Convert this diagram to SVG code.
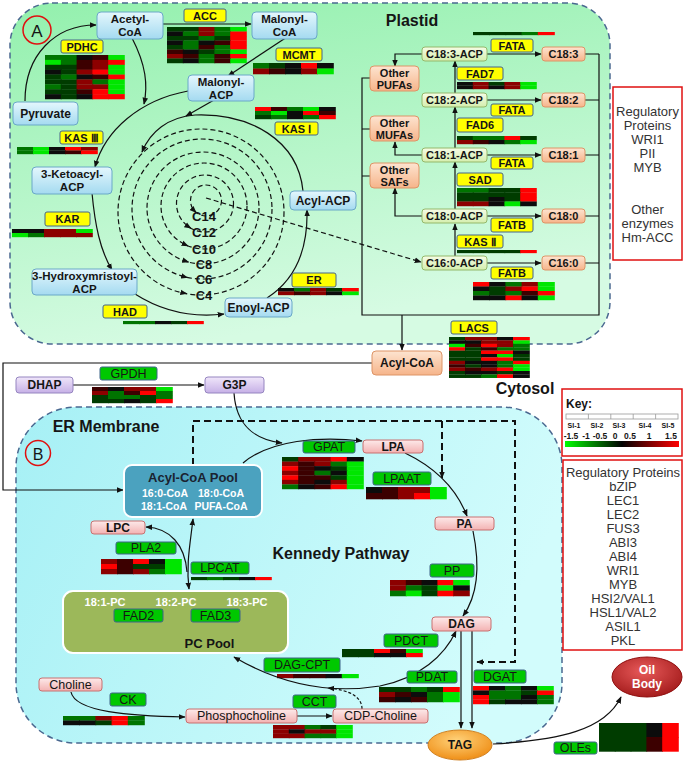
<svg xmlns="http://www.w3.org/2000/svg" width="685" height="768" viewBox="0 0 685 768">
<defs>
<style>
text{font-family:"Liberation Sans",Arial,sans-serif;text-anchor:middle;dominant-baseline:central;fill:#151515}
.b{font-weight:bold;font-size:12px}
.b2{font-weight:bold;font-size:11.5px}
.s{font-weight:bold;font-size:11px}
.n{font-size:12.5px}
.big{font-weight:bold;font-size:16px}
.reg{font-size:13px;fill:#333}
.blue{fill:url(#gBlue);stroke:#6aa8c8;stroke-width:1}
.yel{fill:#ffff00;stroke:#46648a;stroke-width:1}
.grn{fill:#00c800;stroke:#3c6488;stroke-width:1}
.pink{fill:url(#gPink);stroke:#c87070;stroke-width:1}
.acp{fill:url(#gAcp);stroke:#94b86a;stroke-width:1}
.org{fill:url(#gOrg);stroke:#dd9466;stroke-width:1}
.pur{fill:url(#gPur);stroke:#9585c0;stroke-width:1}
.hm rect{width:1.05px;height:1.05px}
.G{fill:#00e600}.g{fill:#007400}.m{fill:#003c00}.k{fill:#0c0c0c}.d{fill:#3c0000}.r{fill:#8c0000}.R{fill:#ff0000}
.con path{fill:none;stroke:#111;stroke-width:1.2}
.con .ds{stroke-dasharray:5 3}
.con .dk{stroke-width:2;stroke-dasharray:7 4}
</style>
<marker id="a" viewBox="0 0 10 10" refX="9" refY="5" markerWidth="7" markerHeight="7" markerUnits="userSpaceOnUse" orient="auto-start-reverse"><path d="M0,1 L10,5 L0,9 z" fill="#111"/></marker>
<linearGradient id="gPl" x1="0" y1="0" x2="0.3" y2="1"><stop offset="0" stop-color="#93f0ad"/><stop offset="1" stop-color="#d6fbe3"/></linearGradient>
<linearGradient id="gEr" x1="0" y1="0" x2="1" y2="0.3"><stop offset="0" stop-color="#a6f0f5"/><stop offset="1" stop-color="#d2fcfc"/></linearGradient>
<linearGradient id="gBlue" x1="0" y1="0" x2="0" y2="1"><stop offset="0" stop-color="#e4f7fd"/><stop offset="1" stop-color="#a4daf0"/></linearGradient>
<linearGradient id="gPink" x1="0" y1="0" x2="0" y2="1"><stop offset="0" stop-color="#fdeaea"/><stop offset="1" stop-color="#f3b2b2"/></linearGradient>
<linearGradient id="gAcp" x1="0" y1="0" x2="0" y2="1"><stop offset="0" stop-color="#f6fce6"/><stop offset="1" stop-color="#d4eeae"/></linearGradient>
<linearGradient id="gOrg" x1="0" y1="0" x2="0" y2="1"><stop offset="0" stop-color="#fde4d0"/><stop offset="1" stop-color="#f6b48a"/></linearGradient>
<linearGradient id="gPur" x1="0" y1="0" x2="0" y2="1"><stop offset="0" stop-color="#f0e6fa"/><stop offset="1" stop-color="#c6b0e6"/></linearGradient>
<linearGradient id="gKey" x1="0" y1="0" x2="1" y2="0"><stop offset="0" stop-color="#00ff00"/><stop offset="0.5" stop-color="#000"/><stop offset="1" stop-color="#ff0000"/></linearGradient>
<radialGradient id="gTag" cx="0.45" cy="0.35" r="0.7"><stop offset="0" stop-color="#ffd27a"/><stop offset="1" stop-color="#ee8a10"/></radialGradient>
<radialGradient id="gOil" cx="0.45" cy="0.35" r="0.7"><stop offset="0" stop-color="#e85a5a"/><stop offset="1" stop-color="#a01818"/></radialGradient>
</defs>

<!-- compartments -->
<rect x="10" y="3" width="600" height="341" rx="42" fill="url(#gPl)" stroke="#4a6890" stroke-width="1.5" stroke-dasharray="6 4"/>
<rect x="16" y="407" width="546" height="336" rx="60" fill="url(#gEr)" stroke="#4a6890" stroke-width="1.5" stroke-dasharray="6 4"/>
<circle cx="37" cy="30" r="14" fill="none" stroke="#e01010" stroke-width="1.5"/>
<text x="37" y="31" style="font-size:17px">A</text>
<circle cx="38" cy="453" r="12.5" fill="none" stroke="#e01010" stroke-width="1.5"/>
<text x="38" y="454" style="font-size:16px">B</text>
<text class="big" x="412" y="20">Plastid</text>
<text class="big" x="525" y="388">Cytosol</text>
<text class="big" x="106" y="426">ER Membrane</text>
<text class="big" x="341" y="553">Kennedy Pathway</text>

<!-- heatmaps -->
<g class="hm">
<g transform="translate(167,27) scale(15.8,4.5)"><rect class="m" x="0" y="0"/><rect class="m" x="1" y="0"/><rect class="r" x="2" y="0"/><rect class="g" x="3" y="0"/><rect class="G" x="4" y="0"/><rect class="k" x="0" y="1"/><rect class="g" x="1" y="1"/><rect class="r" x="2" y="1"/><rect class="g" x="3" y="1"/><rect class="R" x="4" y="1"/><rect class="m" x="0" y="2"/><rect class="m" x="1" y="2"/><rect class="g" x="2" y="2"/><rect class="m" x="3" y="2"/><rect class="R" x="4" y="2"/><rect class="k" x="0" y="3"/><rect class="g" x="1" y="3"/><rect class="k" x="2" y="3"/><rect class="d" x="3" y="3"/><rect class="R" x="4" y="3"/><rect class="m" x="0" y="4"/><rect class="g" x="1" y="4"/><rect class="d" x="2" y="4"/><rect class="g" x="3" y="4"/><rect class="R" x="4" y="4"/><rect class="d" x="0" y="5"/><rect class="k" x="1" y="5"/><rect class="m" x="2" y="5"/><rect class="g" x="3" y="5"/><rect class="G" x="4" y="5"/><rect class="r" x="0" y="6"/><rect class="d" x="1" y="6"/><rect class="g" x="2" y="6"/><rect class="d" x="3" y="6"/><rect class="R" x="4" y="6"/><rect class="m" x="0" y="7"/><rect class="k" x="1" y="7"/><rect class="g" x="2" y="7"/><rect class="d" x="3" y="7"/><rect class="G" x="4" y="7"/></g>
<g transform="translate(45,55) scale(15.8,4.89)"><rect class="g" x="0" y="0"/><rect class="g" x="1" y="0"/><rect class="k" x="2" y="0"/><rect class="d" x="3" y="0"/><rect class="G" x="4" y="0"/><rect class="G" x="0" y="1"/><rect class="g" x="1" y="1"/><rect class="d" x="2" y="1"/><rect class="r" x="3" y="1"/><rect class="R" x="4" y="1"/><rect class="m" x="0" y="2"/><rect class="m" x="1" y="2"/><rect class="d" x="2" y="2"/><rect class="r" x="3" y="2"/><rect class="G" x="4" y="2"/><rect class="k" x="0" y="3"/><rect class="m" x="1" y="3"/><rect class="r" x="2" y="3"/><rect class="R" x="3" y="3"/><rect class="G" x="4" y="3"/><rect class="m" x="0" y="4"/><rect class="g" x="1" y="4"/><rect class="k" x="2" y="4"/><rect class="d" x="3" y="4"/><rect class="R" x="4" y="4"/><rect class="m" x="0" y="5"/><rect class="m" x="1" y="5"/><rect class="r" x="2" y="5"/><rect class="g" x="3" y="5"/><rect class="G" x="4" y="5"/><rect class="g" x="0" y="6"/><rect class="m" x="1" y="6"/><rect class="r" x="2" y="6"/><rect class="r" x="3" y="6"/><rect class="G" x="4" y="6"/><rect class="m" x="0" y="7"/><rect class="m" x="1" y="7"/><rect class="d" x="2" y="7"/><rect class="R" x="3" y="7"/><rect class="G" x="4" y="7"/><rect class="k" x="0" y="8"/><rect class="m" x="1" y="8"/><rect class="k" x="2" y="8"/><rect class="R" x="3" y="8"/><rect class="R" x="4" y="8"/></g>
<g transform="translate(253,63) scale(16,5.5)"><rect class="g" x="0" y="0"/><rect class="m" x="1" y="0"/><rect class="k" x="2" y="0"/><rect class="R" x="3" y="0"/><rect class="k" x="4" y="0"/><rect class="r" x="0" y="1"/><rect class="d" x="1" y="1"/><rect class="k" x="2" y="1"/><rect class="r" x="3" y="1"/><rect class="G" x="4" y="1"/></g>
<g transform="translate(255,107) scale(16,4)"><rect class="R" x="0" y="0"/><rect class="d" x="1" y="0"/><rect class="g" x="2" y="0"/><rect class="G" x="3" y="0"/><rect class="k" x="4" y="0"/><rect class="g" x="0" y="1"/><rect class="G" x="1" y="1"/><rect class="k" x="2" y="1"/><rect class="R" x="3" y="1"/><rect class="d" x="4" y="1"/><rect class="m" x="0" y="2"/><rect class="g" x="1" y="2"/><rect class="k" x="2" y="2"/><rect class="g" x="3" y="2"/><rect class="R" x="4" y="2"/></g>
<g transform="translate(17,147) scale(16,3.5)"><rect class="g" x="0" y="0"/><rect class="G" x="1" y="0"/><rect class="k" x="2" y="0"/><rect class="R" x="3" y="0"/><rect class="r" x="4" y="0"/><rect class="g" x="0" y="1"/><rect class="G" x="1" y="1"/><rect class="k" x="2" y="1"/><rect class="d" x="3" y="1"/><rect class="R" x="4" y="1"/></g>
<g transform="translate(12,229) scale(16,4)"><rect class="k" x="0" y="0"/><rect class="k" x="1" y="0"/><rect class="r" x="2" y="0"/><rect class="r" x="3" y="0"/><rect class="G" x="4" y="0"/><rect class="G" x="0" y="1"/><rect class="g" x="1" y="1"/><rect class="r" x="2" y="1"/><rect class="r" x="3" y="1"/><rect class="r" x="4" y="1"/></g>
<g transform="translate(123,321) scale(16,3)"><rect class="g" x="0" y="0"/><rect class="g" x="1" y="0"/><rect class="k" x="2" y="0"/><rect class="m" x="3" y="0"/><rect class="R" x="4" y="0"/></g>
<g transform="translate(278,288) scale(16,3.5)"><rect class="k" x="0" y="0"/><rect class="g" x="1" y="0"/><rect class="r" x="2" y="0"/><rect class="m" x="3" y="0"/><rect class="R" x="4" y="0"/><rect class="r" x="0" y="1"/><rect class="d" x="1" y="1"/><rect class="r" x="2" y="1"/><rect class="k" x="3" y="1"/><rect class="G" x="4" y="1"/></g>
<g transform="translate(473,32) scale(16.2,3)"><rect class="m" x="0" y="0"/><rect class="m" x="1" y="0"/><rect class="m" x="2" y="0"/><rect class="g" x="3" y="0"/><rect class="R" x="4" y="0"/></g>
<g transform="translate(457,82) scale(15.8,3.5)"><rect class="k" x="0" y="0"/><rect class="r" x="1" y="0"/><rect class="m" x="2" y="0"/><rect class="r" x="3" y="0"/><rect class="G" x="4" y="0"/><rect class="k" x="0" y="1"/><rect class="r" x="1" y="1"/><rect class="k" x="2" y="1"/><rect class="r" x="3" y="1"/><rect class="G" x="4" y="1"/></g>
<g transform="translate(457,136) scale(15.8,4)"><rect class="m" x="0" y="0"/><rect class="g" x="1" y="0"/><rect class="g" x="2" y="0"/><rect class="R" x="3" y="0"/><rect class="m" x="4" y="0"/><rect class="r" x="0" y="1"/><rect class="d" x="1" y="1"/><rect class="k" x="2" y="1"/><rect class="g" x="3" y="1"/><rect class="G" x="4" y="1"/></g>
<g transform="translate(457,188) scale(15.8,4.5)"><rect class="g" x="0" y="0"/><rect class="g" x="1" y="0"/><rect class="m" x="2" y="0"/><rect class="m" x="3" y="0"/><rect class="R" x="4" y="0"/><rect class="m" x="0" y="1"/><rect class="m" x="1" y="1"/><rect class="m" x="2" y="1"/><rect class="m" x="3" y="1"/><rect class="R" x="4" y="1"/><rect class="m" x="0" y="2"/><rect class="m" x="1" y="2"/><rect class="k" x="2" y="2"/><rect class="m" x="3" y="2"/><rect class="R" x="4" y="2"/><rect class="r" x="0" y="3"/><rect class="r" x="1" y="3"/><rect class="k" x="2" y="3"/><rect class="G" x="3" y="3"/><rect class="k" x="4" y="3"/></g>
<g transform="translate(457,250) scale(15.8,3)"><rect class="m" x="0" y="0"/><rect class="m" x="1" y="0"/><rect class="m" x="2" y="0"/><rect class="m" x="3" y="0"/><rect class="R" x="4" y="0"/></g>
<g transform="translate(473,282) scale(16.2,4.5)"><rect class="R" x="0" y="0"/><rect class="k" x="1" y="0"/><rect class="g" x="2" y="0"/><rect class="r" x="3" y="0"/><rect class="G" x="4" y="0"/><rect class="k" x="0" y="1"/><rect class="m" x="1" y="1"/><rect class="r" x="2" y="1"/><rect class="R" x="3" y="1"/><rect class="G" x="4" y="1"/><rect class="g" x="0" y="2"/><rect class="m" x="1" y="2"/><rect class="g" x="2" y="2"/><rect class="d" x="3" y="2"/><rect class="R" x="4" y="2"/><rect class="k" x="0" y="3"/><rect class="k" x="1" y="3"/><rect class="R" x="2" y="3"/><rect class="k" x="3" y="3"/><rect class="G" x="4" y="3"/></g>
<g transform="translate(449,337) scale(16,3.4)"><rect class="m" x="0" y="0"/><rect class="r" x="1" y="0"/><rect class="r" x="2" y="0"/><rect class="k" x="3" y="0"/><rect class="R" x="4" y="0"/><rect class="k" x="0" y="1"/><rect class="k" x="1" y="1"/><rect class="r" x="2" y="1"/><rect class="r" x="3" y="1"/><rect class="G" x="4" y="1"/><rect class="G" x="0" y="2"/><rect class="d" x="1" y="2"/><rect class="R" x="2" y="2"/><rect class="r" x="3" y="2"/><rect class="g" x="4" y="2"/><rect class="R" x="0" y="3"/><rect class="m" x="1" y="3"/><rect class="d" x="2" y="3"/><rect class="g" x="3" y="3"/><rect class="g" x="4" y="3"/><rect class="m" x="0" y="4"/><rect class="m" x="1" y="4"/><rect class="R" x="2" y="4"/><rect class="R" x="3" y="4"/><rect class="k" x="4" y="4"/><rect class="m" x="0" y="5"/><rect class="m" x="1" y="5"/><rect class="k" x="2" y="5"/><rect class="G" x="3" y="5"/><rect class="m" x="4" y="5"/><rect class="m" x="0" y="6"/><rect class="m" x="1" y="6"/><rect class="R" x="2" y="6"/><rect class="R" x="3" y="6"/><rect class="m" x="4" y="6"/><rect class="r" x="0" y="7"/><rect class="k" x="1" y="7"/><rect class="k" x="2" y="7"/><rect class="g" x="3" y="7"/><rect class="R" x="4" y="7"/><rect class="d" x="0" y="8"/><rect class="m" x="1" y="8"/><rect class="k" x="2" y="8"/><rect class="g" x="3" y="8"/><rect class="G" x="4" y="8"/><rect class="r" x="0" y="9"/><rect class="d" x="1" y="9"/><rect class="r" x="2" y="9"/><rect class="R" x="3" y="9"/><rect class="G" x="4" y="9"/><rect class="m" x="0" y="10"/><rect class="k" x="1" y="10"/><rect class="k" x="2" y="10"/><rect class="m" x="3" y="10"/><rect class="k" x="4" y="10"/><rect class="m" x="0" y="11"/><rect class="m" x="1" y="11"/><rect class="g" x="2" y="11"/><rect class="R" x="3" y="11"/><rect class="k" x="4" y="11"/></g>
<g transform="translate(92,387) scale(16,4)"><rect class="d" x="0" y="0"/><rect class="k" x="1" y="0"/><rect class="r" x="2" y="0"/><rect class="r" x="3" y="0"/><rect class="G" x="4" y="0"/><rect class="r" x="0" y="1"/><rect class="g" x="1" y="1"/><rect class="d" x="2" y="1"/><rect class="R" x="3" y="1"/><rect class="g" x="4" y="1"/><rect class="m" x="0" y="2"/><rect class="g" x="1" y="2"/><rect class="g" x="2" y="2"/><rect class="m" x="3" y="2"/><rect class="g" x="4" y="2"/><rect class="m" x="0" y="3"/><rect class="m" x="1" y="3"/><rect class="k" x="2" y="3"/><rect class="m" x="3" y="3"/><rect class="R" x="4" y="3"/></g>
<g transform="translate(282,457) scale(16.2,4.57)"><rect class="m" x="0" y="0"/><rect class="r" x="1" y="0"/><rect class="r" x="2" y="0"/><rect class="R" x="3" y="0"/><rect class="k" x="4" y="0"/><rect class="r" x="0" y="1"/><rect class="d" x="1" y="1"/><rect class="r" x="2" y="1"/><rect class="g" x="3" y="1"/><rect class="G" x="4" y="1"/><rect class="R" x="0" y="2"/><rect class="d" x="1" y="2"/><rect class="k" x="2" y="2"/><rect class="m" x="3" y="2"/><rect class="G" x="4" y="2"/><rect class="r" x="0" y="3"/><rect class="d" x="1" y="3"/><rect class="g" x="2" y="3"/><rect class="k" x="3" y="3"/><rect class="G" x="4" y="3"/><rect class="R" x="0" y="4"/><rect class="d" x="1" y="4"/><rect class="d" x="2" y="4"/><rect class="m" x="3" y="4"/><rect class="G" x="4" y="4"/><rect class="r" x="0" y="5"/><rect class="d" x="1" y="5"/><rect class="k" x="2" y="5"/><rect class="r" x="3" y="5"/><rect class="G" x="4" y="5"/><rect class="g" x="0" y="6"/><rect class="k" x="1" y="6"/><rect class="d" x="2" y="6"/><rect class="R" x="3" y="6"/><rect class="G" x="4" y="6"/></g>
<g transform="translate(366,487) scale(16,6)"><rect class="k" x="0" y="0"/><rect class="d" x="1" y="0"/><rect class="r" x="2" y="0"/><rect class="r" x="3" y="0"/><rect class="G" x="4" y="0"/><rect class="d" x="0" y="1"/><rect class="d" x="1" y="1"/><rect class="r" x="2" y="1"/><rect class="R" x="3" y="1"/><rect class="G" x="4" y="1"/></g>
<g transform="translate(101,559) scale(16,5)"><rect class="r" x="0" y="0"/><rect class="d" x="1" y="0"/><rect class="R" x="2" y="0"/><rect class="k" x="3" y="0"/><rect class="G" x="4" y="0"/><rect class="R" x="0" y="1"/><rect class="d" x="1" y="1"/><rect class="m" x="2" y="1"/><rect class="m" x="3" y="1"/><rect class="G" x="4" y="1"/><rect class="r" x="0" y="2"/><rect class="d" x="1" y="2"/><rect class="r" x="2" y="2"/><rect class="g" x="3" y="2"/><rect class="G" x="4" y="2"/></g>
<g transform="translate(191,577) scale(16,3)"><rect class="m" x="0" y="0"/><rect class="g" x="1" y="0"/><rect class="m" x="2" y="0"/><rect class="k" x="3" y="0"/><rect class="R" x="4" y="0"/></g>
<g transform="translate(390,580) scale(15.8,5.33)"><rect class="r" x="0" y="0"/><rect class="d" x="1" y="0"/><rect class="k" x="2" y="0"/><rect class="R" x="3" y="0"/><rect class="G" x="4" y="0"/><rect class="r" x="0" y="1"/><rect class="g" x="1" y="1"/><rect class="m" x="2" y="1"/><rect class="G" x="3" y="1"/><rect class="k" x="4" y="1"/><rect class="g" x="0" y="2"/><rect class="G" x="1" y="2"/><rect class="m" x="2" y="2"/><rect class="R" x="3" y="2"/><rect class="r" x="4" y="2"/></g>
<g transform="translate(85,625) scale(16.2,5)"><rect class="k" x="0" y="0"/><rect class="r" x="1" y="0"/><rect class="R" x="2" y="0"/><rect class="m" x="3" y="0"/><rect class="G" x="4" y="0"/><rect class="r" x="0" y="1"/><rect class="r" x="1" y="1"/><rect class="k" x="2" y="1"/><rect class="r" x="3" y="1"/><rect class="G" x="4" y="1"/><rect class="m" x="0" y="2"/><rect class="d" x="1" y="2"/><rect class="k" x="2" y="2"/><rect class="d" x="3" y="2"/><rect class="R" x="4" y="2"/></g>
<g transform="translate(191,624) scale(15.6,3)"><rect class="m" x="0" y="0"/><rect class="m" x="1" y="0"/><rect class="m" x="2" y="0"/><rect class="g" x="3" y="0"/><rect class="R" x="4" y="0"/></g>
<g transform="translate(342,649) scale(16,4)"><rect class="m" x="0" y="0"/><rect class="m" x="1" y="0"/><rect class="R" x="2" y="0"/><rect class="d" x="3" y="0"/><rect class="G" x="4" y="0"/><rect class="m" x="0" y="1"/><rect class="m" x="1" y="1"/><rect class="k" x="2" y="1"/><rect class="k" x="3" y="1"/><rect class="R" x="4" y="1"/></g>
<g transform="translate(277,674) scale(16.2,4)"><rect class="r" x="0" y="0"/><rect class="d" x="1" y="0"/><rect class="d" x="2" y="0"/><rect class="k" x="3" y="0"/><rect class="G" x="4" y="0"/></g>
<g transform="translate(379,687) scale(16,5)"><rect class="m" x="0" y="0"/><rect class="m" x="1" y="0"/><rect class="g" x="2" y="0"/><rect class="m" x="3" y="0"/><rect class="R" x="4" y="0"/><rect class="r" x="0" y="1"/><rect class="d" x="1" y="1"/><rect class="k" x="2" y="1"/><rect class="g" x="3" y="1"/><rect class="G" x="4" y="1"/><rect class="d" x="0" y="2"/><rect class="k" x="1" y="2"/><rect class="d" x="2" y="2"/><rect class="g" x="3" y="2"/><rect class="G" x="4" y="2"/></g>
<g transform="translate(473,686) scale(16,4.5)"><rect class="R" x="0" y="0"/><rect class="k" x="1" y="0"/><rect class="g" x="2" y="0"/><rect class="k" x="3" y="0"/><rect class="G" x="4" y="0"/><rect class="k" x="0" y="1"/><rect class="g" x="1" y="1"/><rect class="g" x="2" y="1"/><rect class="m" x="3" y="1"/><rect class="R" x="4" y="1"/><rect class="R" x="0" y="2"/><rect class="g" x="1" y="2"/><rect class="g" x="2" y="2"/><rect class="k" x="3" y="2"/><rect class="g" x="4" y="2"/><rect class="R" x="0" y="3"/><rect class="m" x="1" y="3"/><rect class="k" x="2" y="3"/><rect class="k" x="3" y="3"/><rect class="g" x="4" y="3"/></g>
<g transform="translate(63,716) scale(16.2,4.5)"><rect class="g" x="0" y="0"/><rect class="g" x="1" y="0"/><rect class="r" x="2" y="0"/><rect class="R" x="3" y="0"/><rect class="g" x="4" y="0"/><rect class="k" x="0" y="1"/><rect class="k" x="1" y="1"/><rect class="m" x="2" y="1"/><rect class="R" x="3" y="1"/><rect class="g" x="4" y="1"/></g>
<g transform="translate(273,725) scale(15.8,4.33)"><rect class="r" x="0" y="0"/><rect class="r" x="1" y="0"/><rect class="g" x="2" y="0"/><rect class="m" x="3" y="0"/><rect class="G" x="4" y="0"/><rect class="r" x="0" y="1"/><rect class="k" x="1" y="1"/><rect class="r" x="2" y="1"/><rect class="r" x="3" y="1"/><rect class="G" x="4" y="1"/><rect class="r" x="0" y="2"/><rect class="r" x="1" y="2"/><rect class="g" x="2" y="2"/><rect class="g" x="3" y="2"/><rect class="G" x="4" y="2"/></g>
<g transform="translate(599,723) scale(15.8,14)"><rect class="m" x="0" y="0"/><rect class="m" x="1" y="0"/><rect class="m" x="2" y="0"/><rect class="k" x="3" y="0"/><rect class="R" x="4" y="0"/><rect class="m" x="0" y="1"/><rect class="m" x="1" y="1"/><rect class="m" x="2" y="1"/><rect class="d" x="3" y="1"/><rect class="R" x="4" y="1"/></g>
</g>

<!-- connectors -->
<g id="connectors" class="con">
<path d="M25,101 C25,55 55,25 96,25" marker-end="url(#a)"/>
<path d="M163,24 H251" marker-end="url(#a)"/>
<path d="M132,38 C146,65 148,85 144,104" marker-end="url(#a)"/>
<path d="M287,37 L228,76" marker-end="url(#a)"/>
<path d="M214,100 L186,116" marker-end="url(#a)"/>
<path d="M188,91 C140,100 105,130 95,167" marker-end="url(#a)"/>
<path d="M92,193 C95,225 100,250 112,270" marker-end="url(#a)"/>
<path d="M135,294 C160,310 190,318 224,314" marker-end="url(#a)"/>
<path d="M267,298 C295,280 308,250 307,210" marker-end="url(#a)"/>
<path d="M303,191 C298,140 250,113 195,115 C168,117 150,132 142,152" marker-end="url(#a)"/>
<circle cx="206" cy="200.5" r="15.5" fill="none" stroke="#111" stroke-width="1.2" stroke-dasharray="5 3"/>
<circle cx="205" cy="203.5" r="28.5" fill="none" stroke="#111" stroke-width="1.2" stroke-dasharray="5 3"/>
<circle cx="204" cy="206" r="43" fill="none" stroke="#111" stroke-width="1.2" stroke-dasharray="5 3"/>
<circle cx="203" cy="208" r="56" fill="none" stroke="#111" stroke-width="1.2" stroke-dasharray="5 3"/>
<circle cx="202" cy="209" r="70" fill="none" stroke="#111" stroke-width="1.2" stroke-dasharray="5 3"/>
<circle cx="201" cy="212" r="83" fill="none" stroke="#111" stroke-width="1.2" stroke-dasharray="5 3"/>
<path d="M194.1,210.5 L196,212.4" marker-end="url(#a)"/>
<path d="M187.4,226 L190.8,228.2" marker-end="url(#a)"/>
<path d="M183.8,244 L187.9,245.9" marker-end="url(#a)"/>
<path d="M183.8,260.6 L188.5,262.1" marker-end="url(#a)"/>
<path d="M182.7,276.3 L187.4,277.5" marker-end="url(#a)"/>
<path d="M180.9,292.5 L186.6,293.7" marker-end="url(#a)"/>
<path class="ds" d="M206,198 L421,262" marker-end="url(#a)"/>
<path d="M455,256 V224" marker-end="url(#a)"/>
<path d="M455,209 V162" marker-end="url(#a)"/>
<path d="M455,148 V107" marker-end="url(#a)"/>
<path d="M455,93 V61" marker-end="url(#a)"/>
<path d="M487,54 H541" marker-end="url(#a)"/>
<path d="M487,100 H541" marker-end="url(#a)"/>
<path d="M487,155 H541" marker-end="url(#a)"/>
<path d="M487,216 H541" marker-end="url(#a)"/>
<path d="M487,263 H541" marker-end="url(#a)"/>
<path d="M422,54 H395 V66" marker-end="url(#a)"/>
<path d="M422,155 H395 V142" marker-end="url(#a)"/>
<path d="M422,216 H395 V188" marker-end="url(#a)"/>
<path d="M585,54 H599 M585,100 H599 M585,155 H599 M585,216 H599 M585,263 H599 M599,54 V315 H362 V78 H370 M362,129 H370 M362,176 H370"/>
<path d="M402,315 V350" marker-end="url(#a)"/>
<path d="M372,363 H3 V490 H123" marker-end="url(#a)"/>
<path d="M73,385 H204" marker-end="url(#a)"/>
<path d="M234,393 C236,425 255,440 282,443" marker-end="url(#a)"/>
<path d="M243,463 C270,440 320,436 362,441" marker-end="url(#a)"/>
<path d="M405,453 C430,465 455,485 467,516" marker-end="url(#a)"/>
<path d="M473,531 C480,565 478,595 463,616" marker-end="url(#a)"/>
<path class="dk" d="M193,465 V421 H515 V662 H477" marker-end="url(#a)"/>
<path class="dk" d="M442,421 V478" marker-end="url(#a)"/>
<path d="M193,519 C190,545 186,565 189,589" marker-start="url(#a)" marker-end="url(#a)"/>
<path d="M146,527 C170,528 185,545 187,572" marker-start="url(#a)"/>
<path d="M129,603 H152" marker-end="url(#a)"/>
<path d="M199,603 H222" marker-end="url(#a)"/>
<path d="M234,657 C280,684 330,694 380,686 C420,678 445,655 456,631" marker-start="url(#a)" marker-end="url(#a)"/>
<path class="ds" d="M362,709 C362,697 350,690 328,688" marker-end="url(#a)" style="stroke-dasharray:3 2"/>
<path d="M71,692 C75,712 130,716 185,717" marker-end="url(#a)"/>
<path d="M297,716 H332" marker-end="url(#a)"/>
<path d="M461,631 V728" marker-end="url(#a)"/>
<path d="M472,631 V728" marker-end="url(#a)"/>
<path d="M493,744 C560,740 605,730 621,697" marker-end="url(#a)"/>
</g>

<!-- plastid nodes -->
<g id="acetylcoa"><rect class="blue" x="97" y="12" width="66" height="27" rx="4"/><text class="b2" x="130" y="19">Acetyl-</text><text class="b2" x="130" y="32">CoA</text></g>
<g id="malonylcoa"><rect class="blue" x="252" y="12" width="65" height="27" rx="4"/><text class="b2" x="284.5" y="19">Malonyl-</text><text class="b2" x="284.5" y="32">CoA</text></g>
<g id="malonylacp"><rect class="blue" x="188" y="75" width="66" height="26" rx="4"/><text class="b2" x="221" y="81.5">Malonyl-</text><text class="b2" x="221" y="94.5">ACP</text></g>
<g id="pyruvate"><rect class="blue" x="13" y="102" width="65" height="23" rx="4"/><text class="b" x="45.5" y="113.5">Pyruvate</text></g>
<g id="ketoacyl"><rect class="blue" x="32" y="167" width="80" height="27" rx="4"/><text class="b2" x="72" y="174">3-Ketoacyl-</text><text class="b2" x="72" y="187">ACP</text></g>
<g id="hydroxy"><rect class="blue" x="32" y="269" width="105" height="26" rx="4"/><text class="b2" x="84.5" y="275.5">3-Hydroxymristoyl-</text><text class="b2" x="84.5" y="288.5">ACP</text></g>
<g id="enoylacp"><rect class="blue" x="225" y="298" width="67" height="19" rx="4"/><text class="b" x="258.5" y="307.5">Enoyl-ACP</text></g>
<g id="acylacp"><rect class="blue" x="290" y="191" width="66" height="19" rx="4"/><text class="b" x="323" y="200.5">Acyl-ACP</text></g>
<g id="chain" style="font-weight:bold;font-size:13px">
<text x="204" y="216">C14</text><text x="204" y="232">C12</text><text x="204" y="249">C10</text><text x="204" y="264">C8</text><text x="204" y="279">C6</text><text x="204" y="295">C4</text>
</g>
<g id="enz-acc"><rect class="yel" x="184" y="9" width="42" height="13" rx="2"/><text class="s" x="205" y="15.5">ACC</text></g>
<g id="enz-pdhc"><rect class="yel" x="61" y="40" width="42" height="13" rx="2"/><text class="s" x="82" y="46.5">PDHC</text></g>
<g id="enz-mcmt"><rect class="yel" x="276" y="48" width="46" height="13" rx="2"/><text class="s" x="299" y="54.5">MCMT</text></g>
<g id="enz-kas3"><rect class="yel" x="60" y="131" width="43" height="13" rx="2"/><text class="s" x="81.5" y="137.5">KAS Ⅲ</text></g>
<g id="enz-kas1"><rect class="yel" x="275" y="122" width="43" height="13" rx="2"/><text class="s" x="296.5" y="128.5">KAS Ⅰ</text></g>
<g id="enz-kar"><rect class="yel" x="45" y="212" width="45" height="14" rx="2"/><text class="s" x="67.5" y="219">KAR</text></g>
<g id="enz-had"><rect class="yel" x="103" y="305" width="44" height="13" rx="2"/><text class="s" x="125" y="311.5">HAD</text></g>
<g id="enz-er"><rect class="yel" x="292" y="273" width="44" height="14" rx="2"/><text class="s" x="314" y="280">ER</text></g>
<g id="enz-fata1"><rect class="yel" x="491" y="39" width="42" height="13" rx="2"/><text class="s" x="512" y="45.5">FATA</text></g>
<g id="enz-fad7"><rect class="yel" x="457" y="67" width="46" height="13" rx="2"/><text class="s" x="480" y="73.5">FAD7</text></g>
<g id="enz-fata2"><rect class="yel" x="491" y="104" width="42" height="12" rx="2"/><text class="s" x="512" y="110">FATA</text></g>
<g id="enz-fad6"><rect class="yel" x="457" y="118" width="46" height="14" rx="2"/><text class="s" x="480" y="125">FAD6</text></g>
<g id="enz-fata3"><rect class="yel" x="491" y="157" width="42" height="12" rx="2"/><text class="s" x="512" y="163">FATA</text></g>
<g id="enz-sad"><rect class="yel" x="457" y="173" width="46" height="13" rx="2"/><text class="s" x="480" y="179.5">SAD</text></g>
<g id="enz-fatb1"><rect class="yel" x="491" y="218" width="42" height="14" rx="2"/><text class="s" x="512" y="225">FATB</text></g>
<g id="enz-kas2"><rect class="yel" x="457" y="235" width="46" height="13" rx="2"/><text class="s" x="480" y="241.5">KAS Ⅱ</text></g>
<g id="enz-fatb2"><rect class="yel" x="491" y="267" width="42" height="12" rx="2"/><text class="s" x="512" y="273">FATB</text></g>
<g id="enz-lacs"><rect class="yel" x="451" y="321" width="46" height="13" rx="2"/><text class="s" x="474" y="327.5">LACS</text></g>
<g id="c183acp"><rect class="acp" x="422" y="47" width="65" height="14" rx="3"/><text class="s" x="454.5" y="54">C18:3-ACP</text></g>
<g id="c182acp"><rect class="acp" x="422" y="93" width="65" height="14" rx="3"/><text class="s" x="454.5" y="100">C18:2-ACP</text></g>
<g id="c181acp"><rect class="acp" x="422" y="148" width="65" height="14" rx="3"/><text class="s" x="454.5" y="155">C18:1-ACP</text></g>
<g id="c180acp"><rect class="acp" x="422" y="209" width="65" height="14" rx="3"/><text class="s" x="454.5" y="216">C18:0-ACP</text></g>
<g id="c160acp"><rect class="acp" x="422" y="256" width="65" height="14" rx="3"/><text class="s" x="454.5" y="263">C16:0-ACP</text></g>
<g id="c183"><rect class="org" x="542" y="47" width="43" height="14" rx="3"/><text class="s" x="563.5" y="54">C18:3</text></g>
<g id="c182"><rect class="org" x="542" y="93" width="43" height="14" rx="3"/><text class="s" x="563.5" y="100">C18:2</text></g>
<g id="c181"><rect class="org" x="542" y="148" width="43" height="14" rx="3"/><text class="s" x="563.5" y="155">C18:1</text></g>
<g id="c180"><rect class="org" x="542" y="209" width="43" height="14" rx="3"/><text class="s" x="563.5" y="216">C18:0</text></g>
<g id="c160"><rect class="org" x="542" y="256" width="43" height="14" rx="3"/><text class="s" x="563.5" y="263">C16:0</text></g>
<g id="pufas"><rect class="org" x="370" y="66" width="49" height="25" rx="4"/><text class="s" x="394.5" y="72.5">Other</text><text class="s" x="394.5" y="84.5">PUFAs</text></g>
<g id="mufas"><rect class="org" x="370" y="116" width="49" height="25" rx="4"/><text class="s" x="394.5" y="122.5">Other</text><text class="s" x="394.5" y="134.5">MUFAs</text></g>
<g id="safs"><rect class="org" x="370" y="163" width="49" height="25" rx="4"/><text class="s" x="394.5" y="169.5">Other</text><text class="s" x="394.5" y="181.5">SAFs</text></g>
<g id="regbox1"><rect x="613" y="87" width="69" height="173" fill="#fff" stroke="#e01010" stroke-width="1.5"/>
<text class="reg" x="647.5" y="111">Regulatory</text><text class="reg" x="647.5" y="125">Proteins</text><text class="reg" x="647.5" y="139">WRI1</text><text class="reg" x="647.5" y="153">PII</text><text class="reg" x="647.5" y="167">MYB</text><text class="reg" x="647.5" y="209">Other</text><text class="reg" x="647.5" y="223">enzymes</text><text class="reg" x="647.5" y="237">Hm-ACC</text></g>

<!-- cytosol nodes -->
<g id="acylcoa"><rect class="org" x="372" y="351" width="70" height="24" rx="4"/><text class="b" x="407" y="363">Acyl-CoA</text></g>
<g id="dhap"><rect class="pur" x="16" y="377" width="57" height="16" rx="3"/><text class="b" x="44.5" y="385">DHAP</text></g>
<g id="g3p"><rect class="pur" x="205" y="377" width="59" height="16" rx="3"/><text class="b" x="234.5" y="385">G3P</text></g>
<g id="enz-gpdh"><rect class="grn" x="100" y="367" width="57" height="13" rx="2"/><text class="n" x="128.5" y="373.5">GPDH</text></g>

<!-- key -->
<g id="key"><rect x="562" y="389" width="120" height="67" fill="#fff" stroke="#e01010" stroke-width="1.5"/>
<text x="566" y="404" style="font-weight:bold;font-size:12px;text-anchor:start">Key:</text>
<rect x="566" y="414" width="112" height="5" fill="#fff" stroke="#999" stroke-width="0.8"/>
<path d="M588.4,414 V419 M610.8,414 V419 M633.2,414 V419 M655.6,414 V419" stroke="#999" stroke-width="0.8"/>
<g style="font-weight:bold;font-size:7px"><text x="574" y="425">SI-1</text><text x="597" y="425">SI-2</text><text x="619" y="425">SI-3</text><text x="645" y="425">SI-4</text><text x="668" y="425">SI-5</text></g>
<g style="font-weight:bold;font-size:8.5px"><text x="571" y="436">-1.5</text><text x="586" y="436">-1</text><text x="600" y="436">-0.5</text><text x="615" y="436">0</text><text x="630" y="436">0.5</text><text x="649" y="436">1</text><text x="671" y="436">1.5</text></g>
<rect x="565" y="441" width="114" height="6" fill="url(#gKey)"/></g>
<g id="regbox2"><rect x="563" y="460" width="119" height="190" fill="#fff" stroke="#e01010" stroke-width="1.5"/>
<text class="reg" x="623" y="472">Regulatory Proteins</text><text class="reg" x="623" y="486">bZIP</text><text class="reg" x="623" y="500">LEC1</text><text class="reg" x="623" y="514">LEC2</text><text class="reg" x="623" y="528">FUS3</text><text class="reg" x="623" y="542">ABI3</text><text class="reg" x="623" y="556">ABI4</text><text class="reg" x="623" y="570">WRI1</text><text class="reg" x="623" y="584">MYB</text><text class="reg" x="623" y="598">HSI2/VAL1</text><text class="reg" x="623" y="612">HSL1/VAL2</text><text class="reg" x="623" y="626">ASIL1</text><text class="reg" x="623" y="640">PKL</text></g>

<!-- ER nodes -->
<g id="acylcoapool"><rect x="124" y="465" width="138" height="52" rx="8" fill="#4ba2bf" stroke="#fff" stroke-width="2"/>
<text x="193" y="477.5" style="font-weight:bold;font-size:13px;fill:#1a2230">Acyl-CoA Pool</text>
<g style="font-weight:bold;font-size:10.5px"><text x="165" y="492.5" style="fill:#fff">16:0-CoA</text><text x="221" y="492.5" style="fill:#fff">18:0-CoA</text><text x="164" y="506" style="fill:#fff">18:1-CoA</text><text x="221" y="506" style="fill:#fff">PUFA-CoA</text></g></g>
<g id="pcpool"><rect x="63" y="591" width="225" height="62" rx="10" fill="#9cb85a" stroke="#fff" stroke-width="2"/>
<g style="font-weight:bold;font-size:11px"><text x="105" y="602" style="fill:#fff">18:1-PC</text><text x="176" y="602" style="fill:#fff">18:2-PC</text><text x="247" y="602" style="fill:#fff">18:3-PC</text></g>
<text x="209.5" y="643" style="font-weight:bold;font-size:13px">PC Pool</text></g>
<g id="enz-fad2"><rect class="grn" x="114" y="609" width="49" height="13" rx="2"/><text class="n" x="138.5" y="615.5">FAD2</text></g>
<g id="enz-fad3"><rect class="grn" x="191" y="609" width="49" height="13" rx="2"/><text class="n" x="215.5" y="615.5">FAD3</text></g>
<g id="lpc"><rect class="pink" x="91" y="521" width="54" height="13" rx="3"/><text class="b" x="118" y="527.5">LPC</text></g>
<g id="enz-pla2"><rect class="grn" x="116" y="542" width="60" height="12" rx="2"/><text class="n" x="146" y="548">PLA2</text></g>
<g id="enz-lpcat"><rect class="grn" x="191" y="562" width="58" height="12" rx="2"/><text class="n" x="220" y="568">LPCAT</text></g>
<g id="enz-gpat"><rect class="grn" x="303" y="441" width="52" height="12" rx="2"/><text class="n" x="329" y="447">GPAT</text></g>
<g id="lpa"><rect class="pink" x="363" y="440" width="60" height="13" rx="3"/><text class="b" x="393" y="446.5">LPA</text></g>
<g id="enz-lpaat"><rect class="grn" x="373" y="472" width="58" height="13" rx="2"/><text class="n" x="402" y="478.5">LPAAT</text></g>
<g id="pa"><rect class="pink" x="435" y="517" width="59" height="13" rx="3"/><text class="b" x="464.5" y="523.5">PA</text></g>
<g id="enz-pp"><rect class="grn" x="430" y="564" width="44" height="13" rx="2"/><text class="n" x="452" y="570.5">PP</text></g>
<g id="dag"><rect class="pink" x="432" y="617" width="59" height="14" rx="3"/><text class="b" x="461.5" y="624">DAG</text></g>
<g id="enz-pdct"><rect class="grn" x="384" y="634" width="54" height="13" rx="2"/><text class="n" x="411" y="640.5">PDCT</text></g>
<g id="enz-dagcpt"><rect class="grn" x="264" y="658" width="76" height="14" rx="2"/><text class="n" x="302" y="665">DAG-CPT</text></g>
<g id="enz-pdat"><rect class="grn" x="407" y="671" width="50" height="12" rx="2"/><text class="n" x="432" y="677">PDAT</text></g>
<g id="enz-dgat"><rect class="grn" x="474" y="670" width="52" height="13" rx="2"/><text class="n" x="500" y="676.5">DGAT</text></g>
<g id="choline"><rect class="pink" x="39" y="678" width="63" height="13" rx="3"/><text class="n" x="70.5" y="684.5">Choline</text></g>
<g id="enz-ck"><rect class="grn" x="110" y="693" width="36" height="13" rx="2"/><text class="n" x="128" y="699.5">CK</text></g>
<g id="phosphocholine"><rect class="pink" x="186" y="709" width="111" height="14" rx="3"/><text class="n" x="241.5" y="716">Phosphocholine</text></g>
<g id="enz-cct"><rect class="grn" x="293" y="695" width="43" height="13" rx="2"/><text class="n" x="314.5" y="701.5">CCT</text></g>
<g id="cdpcholine"><rect class="pink" x="333" y="709" width="95" height="14" rx="3"/><text class="n" x="380.5" y="716">CDP-Choline</text></g>
<g id="tag"><ellipse cx="460" cy="745" rx="32" ry="15" fill="url(#gTag)" stroke="#d08020"/><text class="b" x="460" y="745">TAG</text></g>
<g id="oilbody"><ellipse cx="647" cy="677" rx="35" ry="20" fill="url(#gOil)" stroke="#901010"/><text class="b" x="647" y="670" style="fill:#fff">Oil</text><text class="b" x="647" y="684" style="fill:#fff">Body</text></g>
<g id="enz-oles"><rect class="grn" x="554" y="742" width="43" height="12" rx="2"/><text class="n" x="575.5" y="748">OLEs</text></g>
</svg>
